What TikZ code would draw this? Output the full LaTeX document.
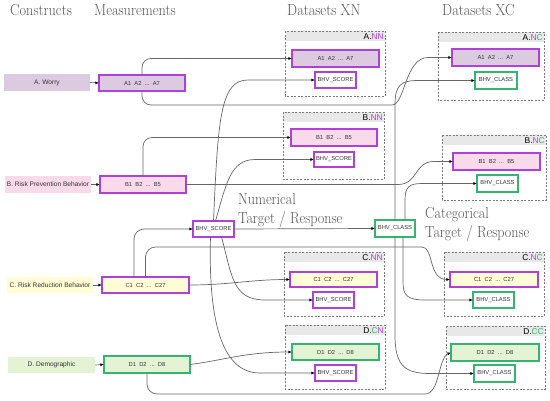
\documentclass[tikz,border=0pt]{standalone}
\usepackage{fontspec}
\usepackage{graphicx}
\usetikzlibrary{arrows.meta,calc}
\newfontfamily\sansf{Liberation Sans}
\definecolor{purp}{HTML}{B040D8}
\definecolor{grn}{HTML}{34B46E}
\definecolor{fillA}{HTML}{DCCAE0}
\definecolor{fillB}{HTML}{F8DAEB}
\definecolor{fillC}{HTML}{FFFDD6}
\definecolor{fillD}{HTML}{E3F3D4}
\definecolor{band}{HTML}{E8E8E8}
\definecolor{conn}{HTML}{666666}
\definecolor{hdrc}{HTML}{555555}
\definecolor{dashc}{HTML}{7A7A7A}
\newcommand\hdrtxt[1]{\scalebox{0.89}[1]{\fontsize{16}{19.5}\selectfont #1}}
\newcommand\twoline[2]{\scalebox{0.88}[1]{\fontsize{16}{19.5}\selectfont\begin{tabular}[t]{@{}l@{}}#1\\#2\end{tabular}}}
\tikzset{
  box/.style={anchor=north west, inner sep=0pt, outer sep=0pt, text=black!80,
    font=\sansf\fontsize{5.8}{7}\selectfont},
  consbox/.style={box, fill=#1, font=\sansf\fontsize{6.6}{8}\selectfont},
  pbox/.style={box, draw=purp, line width=1.25pt, fill=#1},
  gbox/.style={box, draw=grn, line width=1.25pt, fill=#1},
  wire/.style={draw=conn, line width=0.7pt, -{Latex[length=3.6pt,width=3pt,black]}},
  contbox/.style={draw=dashc, line width=0.65pt, dash pattern=on 2pt off 1.5pt},
  hdr/.style={anchor=base west, inner sep=0pt, text=hdrc},
  tag/.style={anchor=east, inner sep=1pt, font=\sansf\fontsize{8.4}{10}\selectfont},
}
\begin{document}
\begin{tikzpicture}[x=1pt,y=-1pt]
\useasboundingbox (0,0) rectangle (550,400);

% headers
\node[hdr] (hC) at (10,15) {\hdrtxt{Constructs}};
\node[hdr] (hM) at (94,15) {\hdrtxt{Measurements}};
\node[hdr] (hXN) at (287,15) {\hdrtxt{Datasets XN}};
\node[hdr] (hXC) at (442,15) {\hdrtxt{Datasets XC}};
\node[hdr] (tNum) at (238,204) {\twoline{Numerical}{Target / Response}};
\node[hdr] (tCat) at (425,218) {\twoline{Categorical}{Target / Response}};

% containers
\foreach \xa/\ya/\xb/\yb in {285.5/31/385/96, 283/112/384/179, 284/252/384/316, 285/325/385/389,
                              438/32/544/100, 442/135/546/200, 444/252/544/316, 446/326/545/389}{
  \fill[band] (\xa,\ya) rectangle (\xb,\ya+10);
  \draw[contbox] (\xa,\ya) rectangle (\xb,\yb);
}
\node[tag] (lAN) at (385,36.5) {A.\textcolor{purp}{NN}};
\node[tag] (lBN) at (384,117.5) {B.\textcolor{purp}{NN}};
\node[tag] (lCN) at (384,257.5) {C.\textcolor{purp}{NN}};
\node[tag] (lDN) at (385,330.5) {D.\textcolor{grn}{C}\textcolor{purp}{N}};
\node[tag] (lAC) at (544,37.5) {A.\textcolor{purp}{N}\textcolor{grn}{C}};
\node[tag] (lBC) at (546,140.5) {B.\textcolor{purp}{N}\textcolor{grn}{C}};
\node[tag] (lCC) at (544,257.5) {C.\textcolor{purp}{N}\textcolor{grn}{C}};
\node[tag] (lDC) at (545,331.5) {D.\textcolor{grn}{CC}};

% constructs
\node[consbox=fillA, minimum width=86pt, minimum height=17pt] (cA) at (4,74) {A. Worry};
\node[consbox=fillB, minimum width=86pt, minimum height=17pt] (cB) at (5,176) {B. Risk Prevention Behavior};
\node[consbox=fillC, minimum width=86pt, minimum height=16pt] (cC) at (7,277) {C. Risk Reduction Behavior};
\node[consbox=fillD, minimum width=87pt, minimum height=16pt] (cD) at (8,357) {D. Demographic};

% measurements
\node[pbox=fillA, minimum width=86pt, minimum height=16pt] (mA) at (99,75) {A1\ \ A2\ \ ...\ \ A7};
\node[pbox=fillB, minimum width=86pt, minimum height=17pt] (mB) at (100,176) {B1\ \ B2\ \ ...\ \ B5};
\node[pbox=fillC, minimum width=87pt, minimum height=16pt] (mC) at (102,277) {C1\ \ C2\ \ ...\ \ C27};
\node[gbox=fillD, minimum width=86pt, minimum height=17pt] (mD) at (104,356) {D1\ \ D2\ \ ...\ \ D8};

% middle targets
\node[pbox=white, minimum width=41pt, minimum height=16pt] (score) at (193,221) {BHV\_SCORE};
\node[gbox=white, minimum width=40pt, minimum height=17pt] (class) at (375,220) {BHV\_CLASS};

% XN inner
\node[pbox=fillA, minimum width=87pt, minimum height=17pt] (iAN) at (292,50) {A1\ \ A2\ \ ...\ \ A7};
\node[pbox=white, minimum width=41pt, minimum height=16pt] (sAN) at (315,72) {BHV\_SCORE};
\node[pbox=fillB, minimum width=86pt, minimum height=17pt] (iBN) at (291,129) {B1\ \ B2\ \ ...\ \ B5};
\node[pbox=white, minimum width=40pt, minimum height=15pt] (sBN) at (314,152) {BHV\_SCORE};
\node[pbox=fillC, minimum width=87pt, minimum height=15pt] (iCN) at (290,272) {C1\ \ C2\ \ ...\ \ C27};
\node[pbox=white, minimum width=41pt, minimum height=16pt] (sCN) at (313,292) {BHV\_SCORE};
\node[gbox=fillD, minimum width=87pt, minimum height=16pt] (iDN) at (292,344) {D1\ \ D2\ \ ...\ \ D8};
\node[pbox=white, minimum width=41pt, minimum height=16pt] (sDN) at (315,365) {BHV\_SCORE};

% XC inner
\node[pbox=fillA, minimum width=87pt, minimum height=17pt] (iAC) at (452,49) {A1\ \ A2\ \ ...\ \ A7};
\node[gbox=white, minimum width=42pt, minimum height=17pt] (cAC) at (475,72) {BHV\_CLASS};
\node[pbox=fillB, minimum width=87pt, minimum height=17pt] (iBC) at (453,153) {B1\ \ B2\ \ ...\ \ B5};
\node[gbox=white, minimum width=41pt, minimum height=17pt] (cBC) at (477,175) {BHV\_CLASS};
\node[pbox=fillC, minimum width=88pt, minimum height=15pt] (iCC) at (450,272) {C1\ \ C2\ \ ...\ \ C27};
\node[gbox=white, minimum width=41pt, minimum height=16pt] (cCC) at (473,292) {BHV\_CLASS};
\node[gbox=fillD, minimum width=88pt, minimum height=17pt] (iDC) at (451,344) {D1\ \ D2\ \ ...\ \ D8};
\node[gbox=white, minimum width=41pt, minimum height=17pt] (cDC) at (474,365) {BHV\_CLASS};

% constructs -> measurements
\draw[wire] (cA.east) -- (mA.west);
\draw[wire] (cB.east) -- (mB.west);
\draw[wire] (cC.east) -- (mC.west);
\draw[wire] (cD.east) -- (mD.west);

% measurement edges
\draw[wire, rounded corners=9pt] (mA.north) |- (iAN.west);
\draw[wire] [rounded corners=9pt] (mA.south) |- (383,105) [sharp corners] .. controls (405,105) and (405,57.5) .. (428,57.5) -- (iAC.west);
\draw[wire, rounded corners=9pt] (mB.north) |- (iBN.west);
\draw[wire] (mB.east) -- (398,184.5) .. controls (418,184.5) and (414,161.5) .. (434,161.5) -- (iBC.west);
\draw[wire, rounded corners=10pt] ([xshift=-11.5pt]mC.north) |- (score.west);
\draw[wire] [rounded corners=10pt] (mC.north) |- (412,247) [sharp corners] .. controls (434,247) and (428,279.5) .. (iCC.west);
\draw[wire] (mC.east) .. controls (230,285) and (250,279.5) .. (iCN.west);
\draw[wire] (mD.east) .. controls (225,360) and (245,352) .. (iDN.west);
\draw[wire] [rounded corners=10pt] (mD.south) |- (415,394) [sharp corners] .. controls (440,394) and (438,358) .. (iDC.west);

% score edges
\draw[wire] (score.north) .. controls (218,120) and (220,80) .. (248,80) -- (sAN.west);
\draw[wire] ([xshift=2pt]score.north) .. controls (226,185) and (230,159.5) .. (255,159.5) -- (sBN.west);
\draw[wire] ([xshift=8pt]score.south) .. controls (232,275) and (232,300) .. (265,300) -- (sCN.west);
\draw[wire] ([xshift=-3pt]score.south) .. controls (208,330) and (225,373) .. (260,373) -- (sDN.west);
\draw[wire] (score.east) -- (class.west);

% class edges
\draw[wire] (class.north) -- (395,105) .. controls (395,86) and (400,80.5) .. (418,80.5) -- (cAC.west);
\draw[wire] ([xshift=10pt]class.north) -- (405,200) .. controls (405,187) and (409,183.5) .. (422,183.5) -- (cBC.west);
\draw[wire] ([xshift=8pt]class.south) -- (403,282) .. controls (403,296) and (408,300) .. (425,300) -- (cCC.west);
\draw[wire] (class.south) -- (395,335) .. controls (395,366) and (405,373.5) .. (430,373.5) -- (cDC.west);
\end{tikzpicture}
\end{document}
